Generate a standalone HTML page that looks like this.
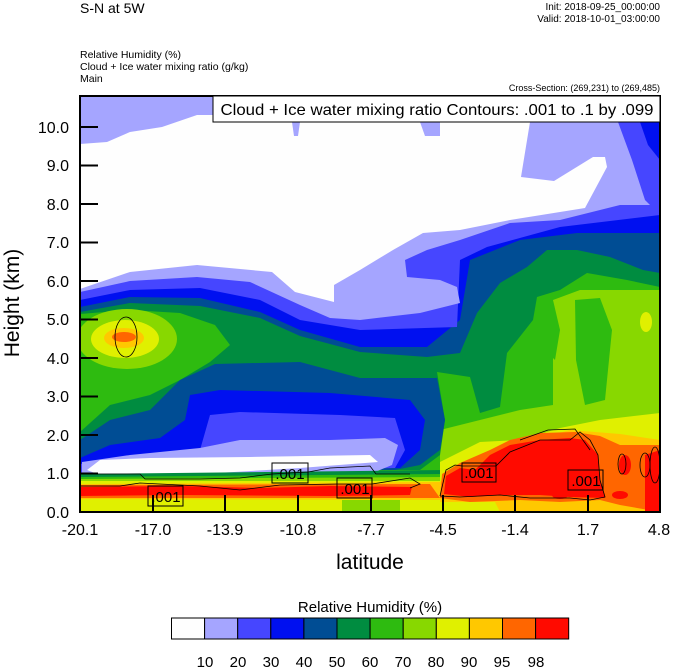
<!DOCTYPE html>
<html><head><meta charset="utf-8"><style>
html,body{margin:0;padding:0;background:#fff;}
svg{display:block;font-family:"Liberation Sans",sans-serif;}
</style></head><body>
<svg width="674" height="668" viewBox="0 0 674 668" xmlns="http://www.w3.org/2000/svg">
<defs><clipPath id="c"><rect x="80" y="96" width="580" height="416"/></clipPath></defs>
<g clip-path="url(#c)">
<rect x="80" y="96" width="580" height="416" fill="#2ebb10"/>
<polygon fill="#88d800" points="553,300 580,290 620,290 660,290 660,512 440,512 440,430 480,420 520,410 553,405"/>
<polygon fill="#2ebb10" points="575,300 600,298 612,330 605,400 585,405 576,360"/>
<polygon fill="#2ebb10" points="545,320 553,300 560,330 555,360 545,350"/>
<ellipse cx="646" cy="322" rx="6" ry="10" fill="#e0f000"/>
<polygon fill="#008c40" points="80,96 660,96 660,287 627,280 587,273 560,290 537,297 533,320 507,353 500,407 480,413 470,377 437,372 445,420 440,455 420,470 80,470 80,432 110,405 150,395 180,380 210,362 230,345 215,325 180,313 130,310 80,314"/>
<polygon fill="#004d94" points="80,96 660,96 660,273 643,270 610,257 577,250 547,250 527,267 500,283 477,313 460,353 427,357 360,352 300,336 260,318 200,306 130,303 80,312"/>
<polygon fill="#004d94" points="80,440 110,420 150,410 180,380 215,364 300,362 360,378 437,378 445,420 440,450 420,465 395,470 80,472"/>
<polygon fill="#0010f0" points="80,96 660,96 660,233 577,233 520,240 470,260 460,320 427,347 360,347 300,330 260,312 200,298 130,297 80,307"/>
<polygon fill="#0010f0" points="80,458 110,445 160,438 185,420 190,395 220,390 330,393 410,400 425,420 420,450 400,468 80,473"/>
<polygon fill="#4646ff" points="80,96 660,96 660,215 560,227 487,247 460,260 457,327 360,330 300,320 260,300 200,288 130,290 80,300"/>
<polygon fill="#4646ff" points="80,464 150,455 200,450 210,415 240,412 340,415 395,418 405,450 395,468 80,474"/>
<polygon fill="#a5a5ff" points="80,96 660,96 660,205 620,205 560,220 510,223 460,240 427,250 405,260 407,277 440,280 457,287 460,303 420,313 360,320 330,318 300,305 250,282 197,277 130,281 80,292"/>
<polygon fill="#a5a5ff" points="82,472 82,462 130,455 200,448 240,440 330,440 385,438 398,445 392,465 375,472 80,476"/>
<polygon fill="#fefefe" points="80,144 107,142 130,132 162,127 197,115 213,115 213,122 530,122 521,177 554,181 593,157 605,157 607,167 585,208 510,220 460,230 423,233 393,250 360,270 334,285 334,302 295,292 272,272 197,265 130,272 80,289"/>
<polygon fill="#a5a5ff" points="292,122 300,122 298,136 294,136"/>
<polygon fill="#a5a5ff" points="420,122 440,122 440,136 425,136"/>
<polygon fill="#fefefe" points="87,470 100,460 150,458 250,457 370,455 378,462 300,468 200,474 100,475"/>
<polygon fill="#4646ff" points="618,122 660,122 660,215 645,200 632,160"/>
<polygon fill="#0010f0" points="640,122 660,122 660,160 648,145"/>
<ellipse cx="127" cy="339" rx="50" ry="30" fill="#88d800"/>
<ellipse cx="125" cy="339" rx="34" ry="19" fill="#e0f000"/>
<ellipse cx="124" cy="338" rx="20" ry="10" fill="#ffc800"/>
<ellipse cx="124" cy="337" rx="12" ry="5" fill="#ff6600"/>
<polygon fill="#008c40" points="80,474 445,470 445,512 80,512"/>
<polygon fill="#2ebb10" points="80,477 445,474 445,512 80,512"/>
<polygon fill="#88d800" points="80,479 445,477 445,512 80,512"/>
<rect x="80" y="481" width="365" height="31" fill="#e0f000"/>
<polygon fill="#ffc800" points="80,484 440,482 440,500 80,499"/>
<polygon fill="#ff6600" points="80,485 430,484 440,498 80,498"/>
<polygon fill="#ff0a00" points="80,487 180,486 260,488 330,486 412,487 410,495 330,496 180,495 80,496"/>
<polygon fill="#88d800" points="342,500 400,500 400,512 342,512"/>
<polygon fill="#e0f000" points="440,462 480,442 520,440 560,428 600,420 660,413 660,512 440,512"/>
<polygon fill="#ffc800" points="440,482 470,460 500,447 540,438 570,430 620,434 660,440 660,512 500,512 495,502 440,502"/>
<polygon fill="#ff6600" points="440,498 442,474 460,463 490,450 510,440 540,433 575,432 600,436 620,445 660,445 660,512 620,505 600,500 560,502 520,500 470,502"/>
<polygon fill="#ff0a00" points="444,494 446,476 460,468 475,470 490,455 510,445 540,440 570,438 585,440 598,455 600,480 605,498 570,497 540,495 500,495 470,497"/>
<polygon fill="#ff0a00" points="645,455 660,450 660,512 645,512"/>
<ellipse cx="625" cy="465" rx="6" ry="10" fill="#ff0a00"/>
<ellipse cx="620" cy="495" rx="8" ry="4" fill="#ff0a00"/>
<ellipse cx="560" cy="495" rx="8" ry="4" fill="#ff0a00"/>
<g fill="none" stroke="#000" stroke-width="0.8">
<ellipse cx="126" cy="337" rx="11" ry="20"/>
<path d="M80,474 L140,474 145,479 200,479 240,478 272,474 308,472 330,468 370,466 376,474 410,474"/>
<path d="M80,486 L120,486 140,483 200,486 240,490 280,485 337,484 372,484 410,478 420,484 410,488"/>
<path d="M440,496 L446,470 455,465 462,466 L496,466 510,452 540,440 570,440 580,432 590,440 598,455 600,480 605,497 590,500 570,498 530,498 500,495 460,497 440,496"/>
<path d="M520,440 L548,430 575,429 590,450"/>
<ellipse cx="622" cy="464" rx="4" ry="10"/>
<ellipse cx="645" cy="465" rx="5" ry="12"/>
<ellipse cx="655" cy="465" rx="5" ry="18"/>
</g>
<g fill="none" stroke="#000" stroke-width="1">
<rect x="148" y="486" width="35" height="20"/>
<rect x="272" y="463" width="36" height="20"/>
<rect x="337" y="478" width="35" height="20"/>
<rect x="462" y="463" width="34" height="19"/>
<rect x="568" y="470" width="35" height="20"/>
</g>
<g font-size="15" fill="#000" text-anchor="middle">
<text x="166" y="502">.001</text>
<text x="290" y="479">.001</text>
<text x="355" y="494">.001</text>
<text x="479" y="478">.001</text>
<text x="586" y="486">.001</text>
</g>
<g stroke="#000" stroke-width="2">
<path d="M153,512V495M225,512V495M298,512V495M371,512V495M443,512V495M515,512V495M588,512V495"/>
<path d="M80,127H98M80,165.5H98M80,204H98M80,242.5H98M80,281H98M80,319.5H98M80,358H98M80,396.5H98M80,435H98M80,473.5H98"/>
</g>
</g>
<rect x="80" y="96" width="580" height="416" fill="none" stroke="#000" stroke-width="2"/>
<rect x="213" y="96" width="447" height="26" fill="#fff" stroke="#000" stroke-width="1"/>
<text x="437" y="115" font-size="16" text-anchor="middle" textLength="433" lengthAdjust="spacingAndGlyphs">Cloud + Ice water mixing ratio Contours: .001 to .1 by .099</text>
<text x="80" y="13" font-size="14">S-N at 5W</text>
<text x="660" y="10" font-size="10" text-anchor="end">Init: 2018-09-25_00:00:00</text>
<text x="660" y="22" font-size="10" text-anchor="end">Valid: 2018-10-01_03:00:00</text>
<text x="80" y="58" font-size="10.5">Relative Humidity   (%)</text>
<text x="80" y="70" font-size="10.5">Cloud + Ice water mixing ratio   (g/kg)</text>
<text x="80" y="82" font-size="10.5">Main</text>
<text x="660" y="91" font-size="9" text-anchor="end">Cross-Section: (269,231) to (269,485)</text>
<g font-size="16" text-anchor="end">
<text x="69" y="518">0.0</text><text x="69" y="479">1.0</text><text x="69" y="441">2.0</text><text x="69" y="402">3.0</text><text x="69" y="364">4.0</text><text x="69" y="325">5.0</text><text x="69" y="287">6.0</text><text x="69" y="248">7.0</text><text x="69" y="210">8.0</text><text x="69" y="171">9.0</text><text x="69" y="133">10.0</text>
</g>
<g font-size="16" text-anchor="middle">
<text x="80" y="535">-20.1</text><text x="153" y="535">-17.0</text><text x="225" y="535">-13.9</text><text x="298" y="535">-10.8</text><text x="371" y="535">-7.7</text><text x="443" y="535">-4.5</text><text x="515" y="535">-1.4</text><text x="588" y="535">1.7</text><text x="659" y="535">4.8</text>
</g>
<text x="370" y="569" font-size="21" text-anchor="middle">latitude</text>
<text transform="translate(19,303) rotate(-90)" font-size="21" text-anchor="middle">Height (km)</text>
<text x="370" y="612" font-size="15" text-anchor="middle">Relative Humidity  (%)</text>
<g stroke="#000" stroke-width="1">
<rect x="171.5" y="618" width="33.1" height="21" fill="#fefefe"/>
<rect x="204.6" y="618" width="33.1" height="21" fill="#a5a5ff"/>
<rect x="237.7" y="618" width="33.1" height="21" fill="#4646ff"/>
<rect x="270.8" y="618" width="33.1" height="21" fill="#0010f0"/>
<rect x="303.9" y="618" width="33.1" height="21" fill="#004d94"/>
<rect x="337" y="618" width="33.1" height="21" fill="#008c40"/>
<rect x="370.1" y="618" width="33.1" height="21" fill="#2ebb10"/>
<rect x="403.2" y="618" width="33.1" height="21" fill="#88d800"/>
<rect x="436.3" y="618" width="33.1" height="21" fill="#e0f000"/>
<rect x="469.4" y="618" width="33.1" height="21" fill="#ffc800"/>
<rect x="502.5" y="618" width="33.1" height="21" fill="#ff6600"/>
<rect x="535.6" y="618" width="33.1" height="21" fill="#ff0a00"/>
</g>
<g font-size="15" text-anchor="middle">
<text x="205" y="667">10</text><text x="238" y="667">20</text><text x="271" y="667">30</text><text x="304" y="667">40</text><text x="337" y="667">50</text><text x="370" y="667">60</text><text x="403" y="667">70</text><text x="436" y="667">80</text><text x="469" y="667">90</text><text x="502" y="667">95</text><text x="536" y="667">98</text>
</g>
</svg>
</body></html>
